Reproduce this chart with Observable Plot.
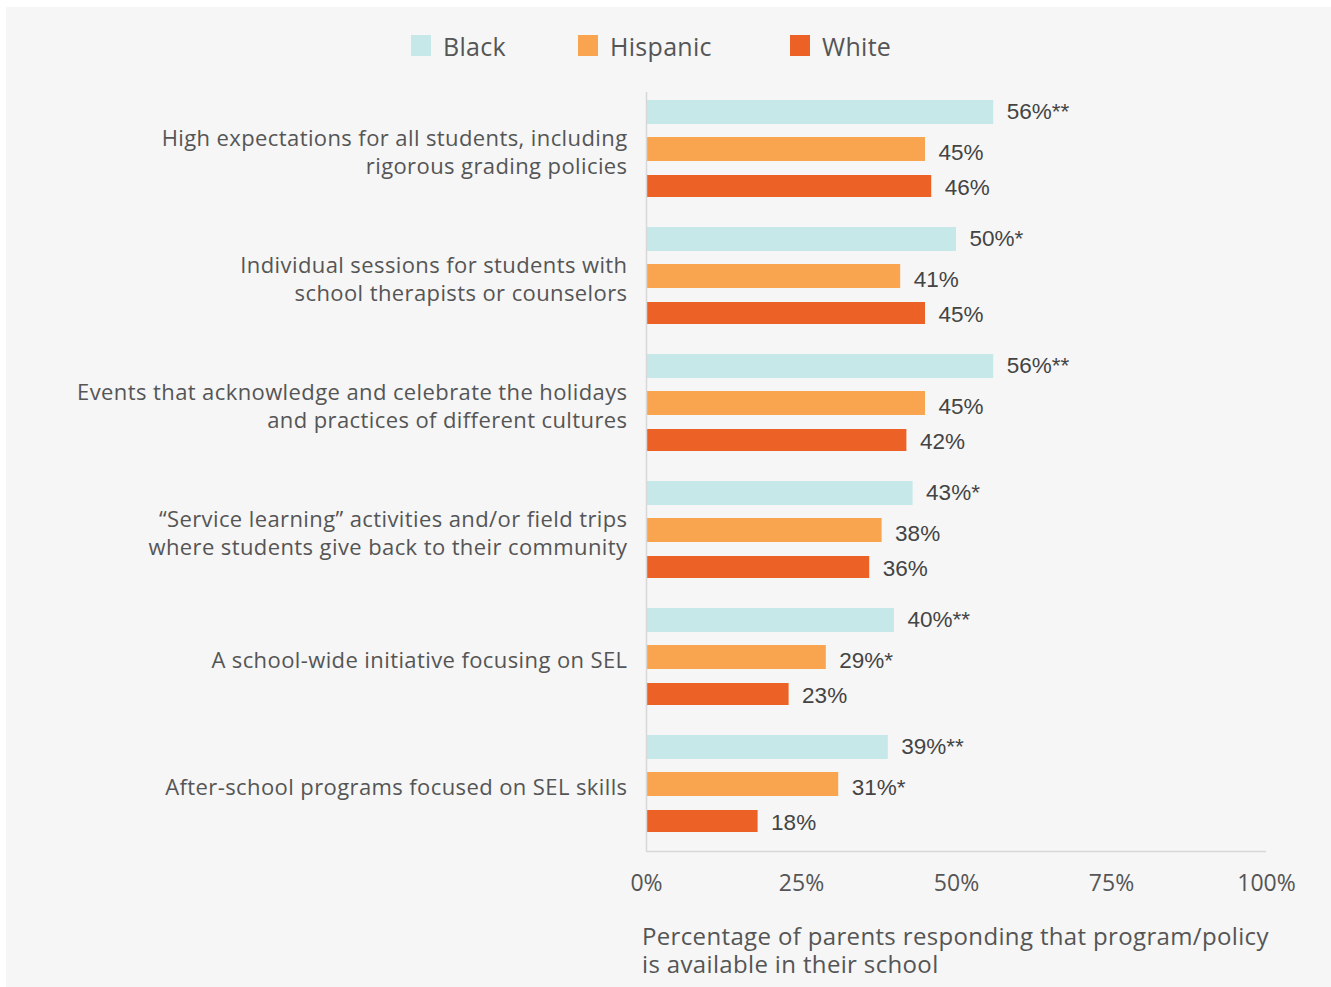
<!DOCTYPE html>
<html>
<head>
<meta charset="utf-8">
<script src="https://cdn.jsdelivr.net/npm/d3@7"></script>
<script src="https://cdn.jsdelivr.net/npm/@observablehq/plot@0.6"></script>
<style>
  html, body { margin: 0; padding: 0; background: #ffffff; }
  #card { position: absolute; left: 6px; top: 7px; width: 1325px; height: 980px; background: #f6f6f6; font-family: "Open Sans", sans-serif; color: #555; }
  #legend { position: absolute; left: 0; top: 0; width: 1325px; height: 80px; }
  .item { position: absolute; top: 28px; display: flex; align-items: center; height: 21px; font-size: 25px; letter-spacing: 0.3px; color: #555; }
  .sw { width: 20px; height: 21px; margin-right: 12px; }
  #chart { position: absolute; left: 0; top: 80px; }
  #caption { position: absolute; left: 636px; top: 915px; font-size: 24px; letter-spacing: 0.35px; line-height: 28px; color: #555; white-space: pre; }
  #chart svg g[aria-label="y-axis tick label"] text { letter-spacing: 0.4px; }
</style>
</head>
<body>
<div id="card">
  <div id="legend"></div>
  <div id="chart"></div>
  <div id="caption"></div>
</div>
<script>
const categories = [
  "High expectations for all students, including\nrigorous grading policies",
  "Individual sessions for students with\nschool therapists or counselors",
  "Events that acknowledge and celebrate the holidays\nand practices of different cultures",
  "\u201CService learning\u201D activities and/or field trips\nwhere students give back to their community",
  "A school-wide initiative focusing on SEL",
  "After-school programs focused on SEL skills"
];
const groups = ["Black", "Hispanic", "White"];
const colors = ["#c6e8e9", "#f9a54f", "#ec6125"];
const blackValues = [56, 50, 56, 43, 40, 39];
const hispanicValues = [45, 41, 45, 38, 29, 31];
const whiteValues = [46, 45, 42, 36, 23, 18];
const blackLabels = ["56%**", "50%*", "56%**", "43%*", "40%**", "39%**"];
const hispanicLabels = ["45%", "41%", "45%", "38%", "29%*", "31%*"];
const whiteLabels = ["46%", "45%", "42%", "36%", "23%", "18%"];
const xTicks = [0, 25, 50, 75, 100];
const axisTitle = "Percentage of parents responding that program/policy\nis available in their school";

const seriesValues = [blackValues, hispanicValues, whiteValues];
const seriesLabels = [blackLabels, hispanicLabels, whiteLabels];
const rows = [];
groups.forEach((g, gi) => categories.forEach((c, ci) => rows.push({
  group: g, category: c, value: seriesValues[gi][ci], label: seriesLabels[gi][ci]
})));

// legend
const legendX = [405, 572, 784];
const legend = document.getElementById("legend");
groups.forEach((g, i) => {
  const it = document.createElement("div");
  it.className = "item";
  it.style.left = legendX[i] + "px";
  it.innerHTML = `<span class="sw" style="background:${colors[i]}"></span><span>${g}</span>`;
  legend.appendChild(it);
});
document.getElementById("caption").textContent = axisTitle;

// bar placement inside each 127px band
const barTop = [8, 45, 83];
const barBottom = [32, 69, 105];
const band = 127;
const labelDy = [-44, -3, 32];

const marks = [];
groups.forEach((g, gi) => {
  const data = rows.filter(d => d.group === g);
  marks.push(Plot.barX(data, {
    x: "value", y: "category", fill: colors[gi],
    insetTop: barTop[gi], insetBottom: band - barBottom[gi]
  }));
  marks.push(Plot.text(data, {
    x: "value", y: "category", text: "label", textAnchor: "start",
    dx: 13, dy: labelDy[gi], fill: "#444", fontFamily: "Liberation Sans", fontSize: 22.5
  }));
});

const chart = Plot.plot({
  width: 1325,
  height: 823,
  marginLeft: 640,
  marginRight: 65,
  marginTop: 5,
  marginBottom: 59,
  style: { background: "transparent", fontFamily: "Open Sans", color: "#555", overflow: "visible" },
  x: { domain: [0, 100] },
  y: { domain: categories, range: [5, 767], padding: 0 },
  marks: [
    ...marks,
    Plot.ruleX([0], { stroke: "#d8d8d8", strokeWidth: 1.5 }),
    Plot.ruleY([categories[categories.length - 1]], { x1: 0, x2: 100, dy: band / 2 - 3, stroke: "#d8d8d8", strokeWidth: 1.5 }),
    Plot.axisX({ ticks: xTicks, tickFormat: d => d + "%", tickSize: 0, tickPadding: 23, fontSize: 23, label: null }),
    Plot.axisY({ tickSize: 0, tickPadding: 19, fontSize: 22, lineHeight: 1.25, dy: -5, label: null, tickFormat: d => d })
  ]
});
document.getElementById("chart").appendChild(chart);
</script>
</body>
</html>
